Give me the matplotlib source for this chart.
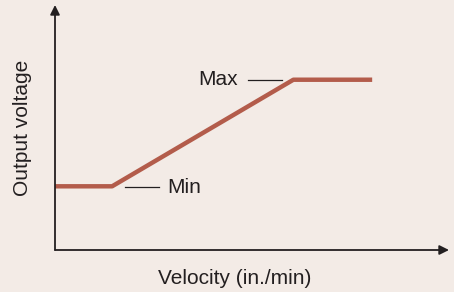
import matplotlib.pyplot as plt

plt.rcParams['font.family'] = ['Liberation Sans', 'DejaVu Sans']

velocity = [0, 1.45, 6.05, 8.05]
voltage = [2.6, 2.6, 6.95, 6.95]

bg = '#f3ebe6'
ink = '#231f20'

fig = plt.figure(figsize=(4.54, 2.92), dpi=100, facecolor=bg)
ax = fig.add_axes([55 / 454, 42 / 292, 394 / 454, 245 / 292])
ax.set_facecolor(bg)
ax.set_xlim(0, 10)
ax.set_ylim(0, 10)
for s in ax.spines.values():
    s.set_visible(False)
ax.set_xticks([])
ax.set_yticks([])

# axes with arrowheads
arrow = dict(arrowstyle='-|>', color=ink, lw=1.3, mutation_scale=14, shrinkA=0, shrinkB=0)
ax.annotate('', xy=(10, 0), xytext=(0, 0), arrowprops=arrow, annotation_clip=False)
ax.annotate('', xy=(0, 10), xytext=(0, 0), arrowprops=arrow, annotation_clip=False)

ax.plot(velocity, voltage, color='#b35c4b', lw=3.2, solid_capstyle='butt', clip_on=False)

# labels with leader lines
ax.plot([1.78, 2.64], [2.56, 2.56], color=ink, lw=0.9)
ax.text(2.84, 2.56, 'Min', fontsize=15, color=ink, ha='left', va='center')
ax.plot([4.9, 5.76], [6.95, 6.95], color=ink, lw=0.9)
ax.text(4.64, 6.95, 'Max', fontsize=15, color=ink, ha='right', va='center')

fig.text(23 / 454, 1 - 128 / 292, 'Output voltage', fontsize=15, color=ink,
         rotation=90, ha='center', va='center')
fig.text(235 / 454, 1 - 279 / 292, 'Velocity (in./min)', fontsize=15, color=ink,
         ha='center', va='center')

fig.savefig('out.png', dpi=100, facecolor=bg)
